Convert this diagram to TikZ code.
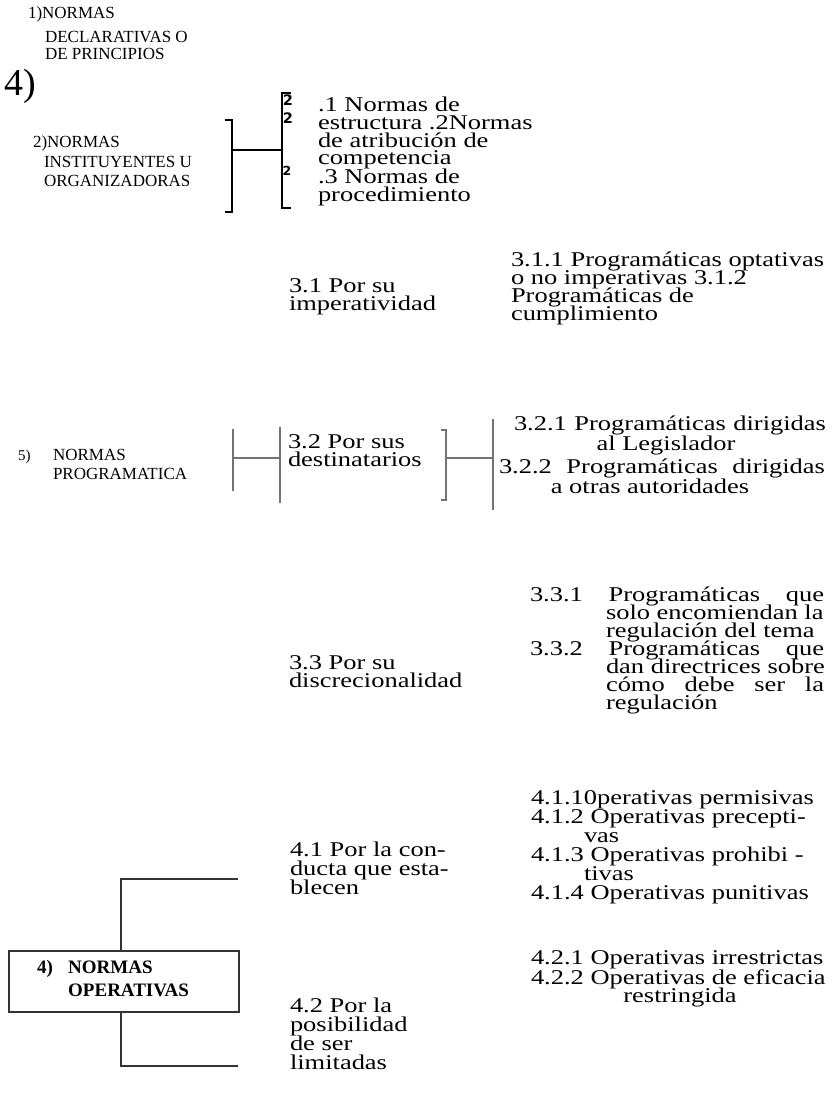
\documentclass[tikz,border=0pt]{standalone}
\usepackage{fontspec}
\setmainfont{Liberation Serif}
\newfontfamily\wideserif[FakeStretch=1.26]{Liberation Serif}
\newfontfamily\twofont{DejaVu Sans}
\begin{document}
\begin{tikzpicture}[x=1pt,y=-1pt,
  bigtxt/.style={font=\wideserif\fontsize{21}{18}\selectfont, inner sep=0pt, outer sep=0pt, anchor=base west},
  lbl/.style={font=\fontsize{17}{18}\selectfont, inner sep=0pt, outer sep=0pt, anchor=base west},
  two/.style={font=\twofont\bfseries\fontsize{14.5}{15}\selectfont, inner sep=0pt, anchor=center},
  blk/.style={line width=2pt, black},
  gry/.style={line width=2.4pt, black!55},
  tree/.style={line width=1.8pt, black!80},
  boxst/.style={draw=black!80, line width=2.2pt, fill=white, minimum width=230pt, minimum height=61pt, inner sep=0pt},
  boxtxt/.style={font=\bfseries\fontsize{19}{20}\selectfont, inner sep=0pt, anchor=base west}]
\useasboundingbox (0,0) rectangle (834,1103);

% ---- 1) and 4)
\node[lbl] (l1a) at (28,18) {1)NORMAS};
\node[lbl] (l1b) at (45,42) {DECLARATIVAS O};
\node[lbl] (l1c) at (45,59) {DE PRINCIPIOS};
\node[font=\fontsize{38}{38}\selectfont, inner sep=0pt, anchor=base west] (four) at (4,95) {4)};

% ---- 2)
\node[lbl] (l2a) at (33,147) {2)NORMAS};
\node[lbl] (l2b) at (44,167) {INSTITUYENTES U};
\node[lbl] (l2c) at (44,186) {ORGANIZADORAS};

\coordinate (b1t) at (232,120);
\coordinate (b1b) at (232,212);
\coordinate (b1m) at (232,150);
\coordinate (b2m) at (282,150);
\coordinate (b2t) at (282,93);
\coordinate (b2b) at (282,208);
\draw[blk] ([xshift=-7pt]b1t) -- (b1t) -- (b1b) -- ([xshift=-7pt]b1b);
\draw[blk] (b1m) -- (b2m);
\draw[blk] ([xshift=9pt]b2t) -- (b2t) -- (b2b) -- ([xshift=9pt]b2b);
\node[two] (tw1) at (288,100) {2};
\node[two] (tw2) at (288,118) {2};
\node[two, font=\twofont\bfseries\fontsize{12.5}{13}\selectfont] (tw3) at (287,171) {2};

\node[bigtxt] (s1a) at (318,111) {.1 Normas de};
\node[bigtxt] (s1b) at (318,129) {estructura .2Normas};
\node[bigtxt] (s1c) at (318,147) {de atribución de};
\node[bigtxt] (s1d) at (318,164) {competencia};
\node[bigtxt] (s1e) at (318,183) {.3 Normas de};
\node[bigtxt] (s1f) at (318,201) {procedimiento};

% ---- 3.1
\node[bigtxt] (p31a) at (289,292) {3.1 Por su};
\node[bigtxt] (p31b) at (289,310) {imperatividad};
\node[bigtxt] (q31a) at (511,266) {3.1.1 Programáticas optativas};
\node[bigtxt] (q31b) at (511,284) {o no imperativas 3.1.2};
\node[bigtxt] (q31c) at (511,302) {Programáticas de};
\node[bigtxt] (q31d) at (511,320) {cumplimiento};

% ---- 5)
\node[lbl, font=\fontsize{15}{15}\selectfont] (l5a) at (18,460) {5)};
\node[lbl] (l5b) at (53,460) {NORMAS};
\node[lbl] (l5c) at (53,479) {PROGRAMATICA};

\coordinate (c1t) at (233,429);
\coordinate (c1b) at (233,491);
\coordinate (c1m) at (233,458);
\coordinate (c2m) at (280,458);
\coordinate (c2t) at (280,427);
\coordinate (c2b) at (280,503);
\draw[gry] (c1t) -- (c1b);
\draw[gry] (c1m) -- (c2m);
\draw[gry] (c2t) -- (c2b);
\node[bigtxt] (p32a) at (288,448) {3.2 Por sus};
\node[bigtxt] (p32b) at (288,466) {destinatarios};

\coordinate (d1t) at (446,430);
\coordinate (d1b) at (446,500);
\coordinate (d1m) at (446,458);
\coordinate (d2m) at (493,458);
\coordinate (d2t) at (493,419);
\coordinate (d2b) at (493,510);
\draw[gry] ([xshift=-5pt]d1t) -- (d1t) -- (d1b) -- ([xshift=-5pt]d1b);
\draw[gry] (d1m) -- (d2m);
\draw[gry] (d2t) -- (d2b);
\node[bigtxt] (q32a) at (514,430) {\hbox to 312pt{3.2.1\hfill Programáticas\hfill dirigidas}};
\node[bigtxt, anchor=base] (q32b) at (666,450) {al Legislador};
\node[bigtxt] (q32c) at (499,473) {\hbox to 326pt{3.2.2\hfill Programáticas\hfill dirigidas}};
\node[bigtxt, anchor=base] (q32d) at (650,493) {a otras autoridades};

% ---- 3.3
\node[bigtxt] (p33a) at (289,669) {3.3 Por su};
\node[bigtxt] (p33b) at (289,687) {discrecionalidad};
\node[bigtxt] (q33a) at (530,601) {\hbox to 294pt{3.3.1\hfill Programáticas\hfill que}};
\node[bigtxt] (q33b) at (606,619) {solo encomiendan la};
\node[bigtxt] (q33c) at (606,637) {regulación del tema};
\node[bigtxt] (q33d) at (530,655) {\hbox to 294pt{3.3.2\hfill Programáticas\hfill que}};
\node[bigtxt] (q33e) at (606,673) {dan directrices sobre};
\node[bigtxt] (q33f) at (606,691) {\hbox to 218pt{cómo\hfill debe\hfill ser\hfill la}};
\node[bigtxt] (q33g) at (606,709) {regulación};

% ---- 4) NORMAS OPERATIVAS
\node[boxst, anchor=north west] (box) at (8,950) {};
\node[boxtxt] (bx1) at (37,973) {4)};
\node[boxtxt] (bx2) at (68,973) {NORMAS};
\node[boxtxt] (bx3) at (68,996) {OPERATIVAS};

\coordinate (e1) at (121,879);
\coordinate (e1r) at (238,879);
\coordinate (e2) at (121,1066);
\coordinate (e2r) at (238,1066);
\draw[tree] (box.north -| e1) -- (e1) -- (e1r);
\draw[tree] (box.south -| e2) -- (e2) -- (e2r);

\node[bigtxt] (p41a) at (290,856) {4.1 Por la con-};
\node[bigtxt] (p41b) at (290,875) {ducta que esta-};
\node[bigtxt] (p41c) at (290,894) {blecen};

\node[bigtxt] (q41a) at (531,804) {4.1.10perativas permisivas};
\node[bigtxt] (q41b) at (531,823) {4.1.2 Operativas precepti-};
\node[bigtxt] (q41c) at (584,842) {vas};
\node[bigtxt] (q41d) at (531,861) {4.1.3 Operativas prohibi -};
\node[bigtxt] (q41e) at (584,880) {tivas};
\node[bigtxt] (q41f) at (531,899) {4.1.4 Operativas punitivas};

\node[bigtxt] (q42a) at (531,964) {4.2.1 Operativas irrestrictas};
\node[bigtxt] (q42b) at (531,984) {4.2.2 Operativas de eficacia};
\node[bigtxt, anchor=base] (q42c) at (680,1002) {restringida};

\node[bigtxt] (p42a) at (290,1012) {4.2 Por la};
\node[bigtxt] (p42b) at (290,1031) {posibilidad};
\node[bigtxt] (p42c) at (290,1050) {de ser};
\node[bigtxt] (p42d) at (290,1069) {limitadas};
\end{tikzpicture}
\end{document}
